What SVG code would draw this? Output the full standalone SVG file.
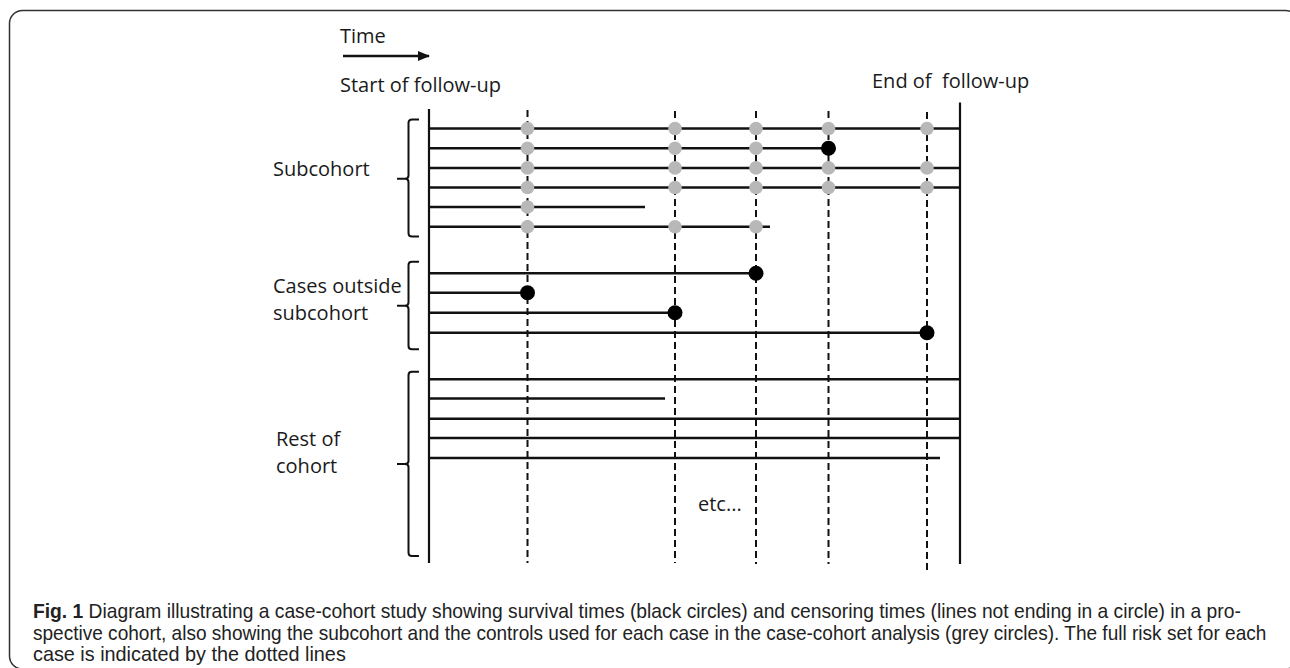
<svg xmlns="http://www.w3.org/2000/svg" width="1290" height="668" viewBox="0 0 1290 668">
<style>
.lbl{font-family:"Open Sans","Liberation Sans",sans-serif;font-size:20px;fill:#1a1a1a;white-space:pre}
.cap{font-family:"Liberation Sans",Arial,sans-serif;font-size:20px;fill:#222}
.ax{stroke:#111;stroke-width:2.2;fill:none}
.row{stroke:#111;stroke-width:2.5;fill:none}
.dash{stroke:#111;stroke-width:2;stroke-dasharray:7 4;fill:none}
.brace{stroke:#111;stroke-width:2;fill:none}
.grey{fill:#b8b8b8}
.blk{fill:#000}
</style>
<defs>
<marker id="ah" markerWidth="12" markerHeight="10" refX="11" refY="5" orient="auto" markerUnits="userSpaceOnUse">
<path d="M0,0 L12,5 L0,10 Z" fill="#111"/>
</marker>
</defs>
<rect x="9.5" y="10.5" width="1289" height="658.5" rx="13" fill="#fff" stroke="#333" stroke-width="1.5"/>

<g id="header">
<text class="lbl" x="340" y="43">Time</text>
<line x1="343" y1="56" x2="429" y2="56" stroke="#111" stroke-width="2.5" marker-end="url(#ah)"/>
<text class="lbl" x="340" y="92">Start of follow-up</text>
<text class="lbl" x="872" y="88">End of  follow-up</text>
</g>

<g id="group-labels">
<text class="lbl" x="273" y="176">Subcohort</text>
<text class="lbl" x="273" y="293">Cases outside</text>
<text class="lbl" x="273" y="320">subcohort</text>
<text class="lbl" x="276" y="446">Rest of</text>
<text class="lbl" x="276" y="473">cohort</text>
<text class="lbl" x="698" y="511">etc...</text>
</g>

<g id="braces">
<path class="brace" d="M419,119.5 L412,119.5 Q408.5,119.5 408.5,123 L408.5,175.5 Q408.5,178.7 405,178.7 L397,178.7 M405,178.7 Q408.5,178.7 408.5,182 L408.5,233 Q408.5,236.5 412,236.5 L419,236.5"/>
<path class="brace" d="M419,261.7 L412,261.7 Q408.5,261.7 408.5,265 L408.5,302.5 Q408.5,305.7 405,305.7 L397,305.7 M405,305.7 Q408.5,305.7 408.5,309 L408.5,346 Q408.5,349.3 412,349.3 L419,349.3"/>
<path class="brace" d="M419,371.7 L412,371.7 Q408.5,371.7 408.5,375 L408.5,461 Q408.5,464 405,464 L397,464 M405,464 Q408.5,464 408.5,467 L408.5,552.5 Q408.5,556 412,556 L419,556"/>
</g>

<g id="connectors">
<line class="dash" x1="527.5" y1="110" x2="527.5" y2="563"/>
<line class="dash" x1="675" y1="111" x2="675" y2="563"/>
<line class="dash" x1="756" y1="111" x2="756" y2="564"/>
<line class="dash" x1="828.5" y1="111" x2="828.5" y2="564"/>
<line class="dash" x1="927" y1="112" x2="927" y2="570"/>
<line class="ax" x1="429" y1="109" x2="429" y2="563"/>
<line class="ax" x1="960" y1="102.5" x2="960" y2="564"/>
</g>

<g id="subcohort">
<line class="row" x1="429" y1="128.5" x2="960" y2="128.5"/>
<line class="row" x1="429" y1="148.2" x2="828.5" y2="148.2"/>
<line class="row" x1="429" y1="167.9" x2="960" y2="167.9"/>
<line class="row" x1="429" y1="187.5" x2="960" y2="187.5"/>
<line class="row" x1="429" y1="207" x2="645" y2="207"/>
<line class="row" x1="429" y1="226.7" x2="770" y2="226.7"/>
<g class="grey">
<circle cx="527.5" cy="128.5" r="6.8"/><circle cx="675" cy="128.5" r="6.8"/><circle cx="756" cy="128.5" r="6.8"/><circle cx="828.5" cy="128.5" r="6.8"/><circle cx="927" cy="128.5" r="6.8"/>
<circle cx="527.5" cy="148.2" r="6.8"/><circle cx="675" cy="148.2" r="6.8"/><circle cx="756" cy="148.2" r="6.8"/>
<circle cx="527.5" cy="167.9" r="6.8"/><circle cx="675" cy="167.9" r="6.8"/><circle cx="756" cy="167.9" r="6.8"/><circle cx="828.5" cy="167.9" r="6.8"/><circle cx="927" cy="167.9" r="6.8"/>
<circle cx="527.5" cy="187.5" r="6.8"/><circle cx="675" cy="187.5" r="6.8"/><circle cx="756" cy="187.5" r="6.8"/><circle cx="828.5" cy="187.5" r="6.8"/><circle cx="927" cy="187.5" r="6.8"/>
<circle cx="527.5" cy="207" r="6.8"/>
<circle cx="527.5" cy="226.7" r="6.8"/><circle cx="675" cy="226.7" r="6.8"/><circle cx="756" cy="226.7" r="6.8"/>
</g>
<circle class="blk" cx="828.5" cy="148.2" r="7.5"/>
</g>

<g id="cases">
<line class="row" x1="429" y1="273.3" x2="756" y2="273.3"/>
<line class="row" x1="429" y1="292.7" x2="527.5" y2="292.7"/>
<line class="row" x1="429" y1="312.7" x2="675" y2="312.7"/>
<line class="row" x1="429" y1="332.7" x2="927" y2="332.7"/>
<circle class="blk" cx="756" cy="273.3" r="7.5"/>
<circle class="blk" cx="527.5" cy="292.7" r="7.5"/>
<circle class="blk" cx="675" cy="312.7" r="7.5"/>
<circle class="blk" cx="927" cy="332.7" r="7.5"/>
</g>

<g id="rest">
<line class="row" x1="429" y1="379.3" x2="960" y2="379.3"/>
<line class="row" x1="429" y1="398.6" x2="665" y2="398.6"/>
<line class="row" x1="429" y1="418.7" x2="960" y2="418.7"/>
<line class="row" x1="429" y1="438" x2="960" y2="438"/>
<line class="row" x1="429" y1="458" x2="940" y2="458"/>
</g>

<g id="caption">
<text class="cap" transform="translate(33,618) scale(0.85,1)" x="0" y="0" textLength="1421" lengthAdjust="spacingAndGlyphs"><tspan font-weight="bold">Fig. 1</tspan> Diagram illustrating a case-cohort study showing survival times (black circles) and censoring times (lines not ending in a circle) in a pro-</text>
<text class="cap" transform="translate(33,640) scale(0.85,1)" x="0" y="0" textLength="1451" lengthAdjust="spacingAndGlyphs">spective cohort, also showing the subcohort and the controls used for each case in the case-cohort analysis (grey circles). The full risk set for each</text>
<text class="cap" transform="translate(33,661) scale(0.85,1)" x="0" y="0" textLength="368" lengthAdjust="spacingAndGlyphs">case is indicated by the dotted lines</text>
</g>
</svg>
